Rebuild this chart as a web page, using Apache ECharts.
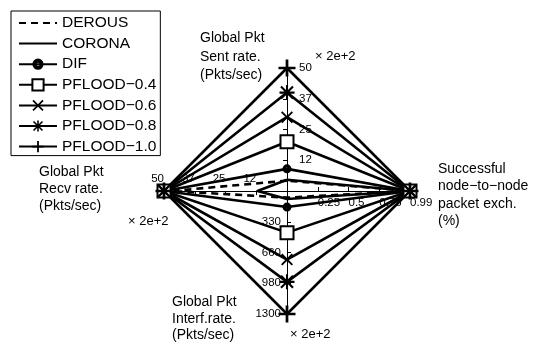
<!DOCTYPE html>
<html>
<head>
<meta charset="utf-8">
<script src="https://cdn.jsdelivr.net/npm/echarts@6/dist/echarts.min.js"></script>
<style>
  html, body { margin: 0; padding: 0; background: #fff; }
  #chart { width: 540px; height: 346px; }
</style>
</head>
<body>
<div id="chart"></div>
<script>
// axes: top, left, bottom, right (radar goes counter-clockwise from top)
const indicatorNames = [
  'Global Pkt\nSent rate.\n(Pkts/sec)',
  'Global Pkt\nRecv rate.\n(Pkts/sec)',
  'Global Pkt\nInterf.rate.\n(Pkts/sec)',
  'Successful\nnode\u2212to\u2212node\npacket exch.\n(%)'
]
const indicatorMax = [50, 50, 1300, 0.99]
const tickLabels = [
  ['12', '25', '37', '50'],
  ['12', '25', '37', '50'],
  ['330', '660', '980', '1300'],
  ['0.25', '0.5', '0.75', '0.99']
]
const scaleNotes = ['\u00d7 2e+2', '\u00d7 2e+2', '\u00d7 2e+2', '']

const seriesNames = ['DEROUS', 'CORONA', 'DIF', 'PFLOOD\u22120.4', 'PFLOOD\u22120.6', 'PFLOOD\u22120.8', 'PFLOOD\u22121.0']
const derous = [4.2, 47, 70, 0.99]
const corona = [4.6, 12, 85, 0.99]
const dif = [9, 50, 170, 0.99]
const pflood04 = [20, 50, 440, 0.99]
const pflood06 = [30, 50, 725, 0.99]
const pflood08 = [40, 50, 960, 0.99]
const pflood10 = [50, 50, 1300, 0.99]
const seriesValues = [derous, corona, dif, pflood04, pflood06, pflood08, pflood10]

const FONT = '"Liberation Sans", Arial, Helvetica, sans-serif'

const plusPath = 'path://M4.2,0 L5.8,0 L5.8,4.2 L10,4.2 L10,5.8 L5.8,5.8 L5.8,10 L4.2,10 L4.2,5.8 L0,5.8 L0,4.2 L4.2,4.2 Z'
const crossPath = 'path://M1.1,0 L5,3.9 L8.9,0 L10,1.1 L6.1,5 L10,8.9 L8.9,10 L5,6.1 L1.1,10 L0,8.9 L3.9,5 L0,1.1 Z'
const starPath = 'path://M4.3,0 L5.7,0 L5.7,4.3 L10,4.3 L10,5.7 L5.7,5.7 L5.7,10 L4.3,10 L4.3,5.7 L0,5.7 L0,4.3 L4.3,4.3 Z ' +
  'M1.5,0.5 L5,4 L8.5,0.5 L9.5,1.5 L6,5 L9.5,8.5 L8.5,9.5 L5,6 L1.5,9.5 L0.5,8.5 L4,5 L0.5,1.5 Z'
// black dot with a small white centre
const ringPath = 'path://M5,0 A5,5 0 1,1 4.99,0 Z M5,3.6 A1.4,1.4 0 1,0 5.01,3.6 Z'

const markStyles = [
  { symbol: 'none', size: 0, dash: 'dashed' },
  { symbol: 'none', size: 0, dash: 'solid' },
  { symbol: ringPath, size: 9, dash: 'solid' },
  { symbol: 'emptyRect', size: 13, dash: 'solid' },
  { symbol: crossPath, size: 12, dash: 'solid' },
  { symbol: starPath, size: 15, dash: 'solid' },
  { symbol: plusPath, size: 17, dash: 'solid' }
]

// where each axis puts its tick labels (clockwise side, as in the original)
const labelSide = [
  { margin: -12, align: 'left', verticalAlign: 'middle' },
  { margin: -6, align: 'right', verticalAlign: 'bottom' },
  { margin: -6, align: 'right', verticalAlign: 'middle' },
  { margin: -6, align: 'left', verticalAlign: 'top' }
]

const chart = echarts.init(document.getElementById('chart'), null, { renderer: 'canvas' })

const radarData = seriesValues.map((vals, i) => ({
  name: seriesNames[i],
  value: vals,
  symbol: markStyles[i].symbol,
  symbolSize: markStyles[i].size,
  lineStyle: { color: '#000', width: 2.6, type: markStyles[i].dash === 'dashed' ? [7, 5] : 'solid' },
  itemStyle: { color: '#000', borderWidth: 2.2 }
}))

// invisible line series, only used so the legend shows line + marker icons
const legendSeries = seriesNames.map((name, i) => ({
  type: 'line',
  name: name,
  data: [],
  symbol: markStyles[i].symbol,
  lineStyle: { color: '#000', width: 2.6, type: markStyles[i].dash === 'dashed' ? [7, 5] : 'solid' },
  itemStyle: { color: markStyles[i].symbol === 'none' ? 'rgba(0,0,0,0)' : '#000' }
}))

const nameLayout = [
  { left: 200, top: 29, lineHeight: 18.5, align: 'left' },
  { left: 39, top: 164, lineHeight: 17, align: 'center', width: 78 },
  { left: 172, top: 294, lineHeight: 16.5, align: 'left' },
  { left: 438, top: 160, lineHeight: 17.5, align: 'left' }
]
const noteLayout = [
  { left: 315, top: 50 },
  { left: 128, top: 215 },
  { left: 290, top: 328 }
]

const graphics = []
indicatorNames.forEach((nm, i) => {
  const L = nameLayout[i]
  graphics.push({
    type: 'text',
    left: L.left,
    top: L.top,
    style: {
      text: nm,
      font: '14px ' + FONT,
      fill: '#000',
      lineHeight: L.lineHeight,
      align: L.align,
      width: L.width
    }
  })
})
noteLayout.forEach((N, i) => {
  graphics.push({
    type: 'text',
    left: N.left,
    top: N.top,
    style: { text: scaleNotes[i], font: '13px ' + FONT, fill: '#000' }
  })
})

chart.setOption({
  backgroundColor: '#fff',
  animation: false,
  textStyle: { fontFamily: FONT },
  legend: {
    orient: 'vertical',
    left: 11,
    top: 11,
    padding: [4, 4, 1, 7],
    borderColor: '#000',
    borderWidth: 1,
    borderRadius: 0,
    itemWidth: 38,
    itemHeight: 14,
    itemGap: 4.6,
    data: seriesNames,
    textStyle: { fontSize: 15.5, color: '#000', fontFamily: FONT },
    selectedMode: false
  },
  grid: { show: false, left: 0, top: 0, width: 1, height: 1 },
  xAxis: { show: false, type: 'category', data: [] },
  yAxis: { show: false, type: 'value' },
  radar: {
    center: [287, 191],
    radius: 123,
    startAngle: 90,
    splitNumber: 4,
    shape: 'polygon',
    indicator: indicatorNames.map((n, i) => ({
      name: n,
      min: 0,
      max: indicatorMax[i],
      axisLabel: {
        margin: labelSide[i].margin,
        align: labelSide[i].align,
        verticalAlign: labelSide[i].verticalAlign,
        formatter: (v) => {
          const k = Math.round(v / indicatorMax[i] * 4)
          return k > 0 ? tickLabels[i][k - 1] : ''
        }
      }
    })),
    axisName: { show: false },
    splitLine: { show: false },
    splitArea: { show: false },
    axisLine: { lineStyle: { color: '#000', width: 1 } },
    axisTick: { show: true, length: 4, lineStyle: { color: '#000', width: 1 } },
    axisLabel: {
      show: true,
      color: '#000',
      fontSize: 11.5,
      fontFamily: FONT
    }
  },
  graphic: graphics,
  series: legendSeries.concat([{
    type: 'radar',
    z: 3,
    data: radarData
  }])
})
</script>
</body>
</html>
